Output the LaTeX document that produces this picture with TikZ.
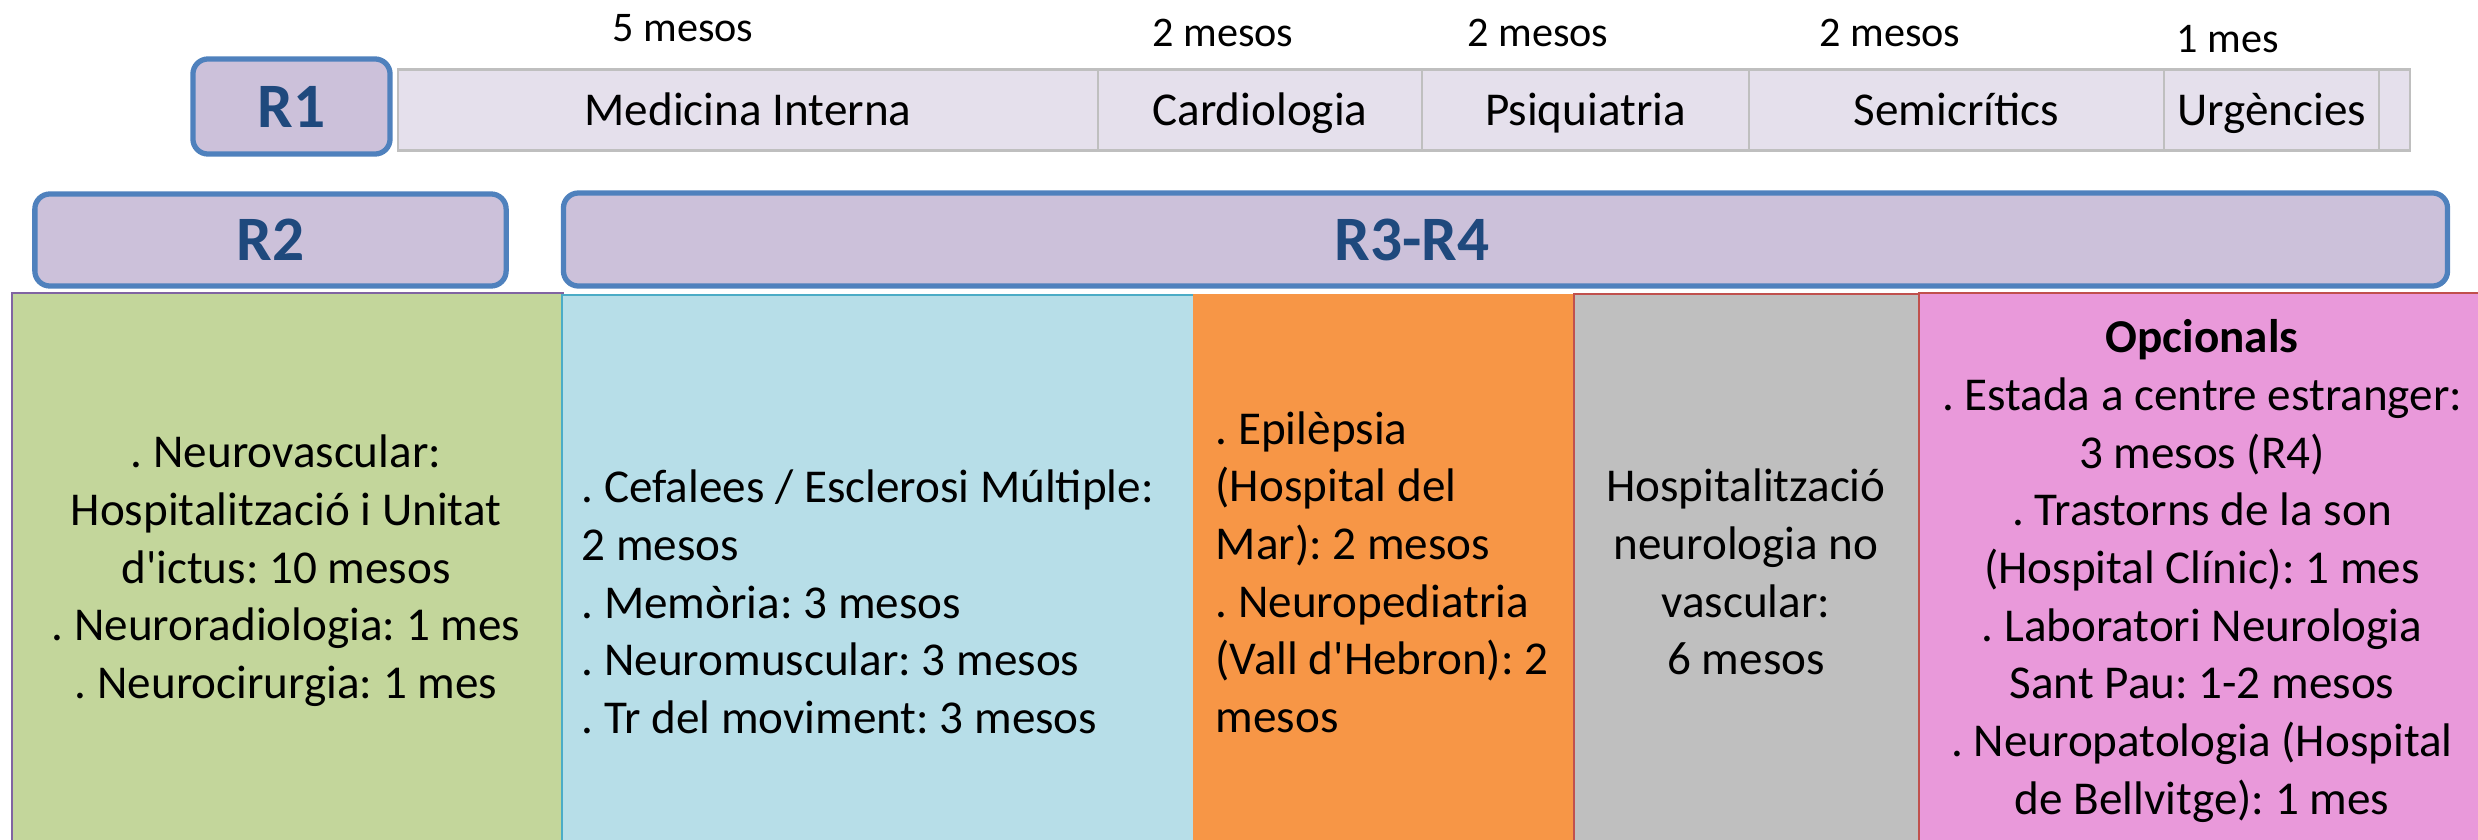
\documentclass[tikz,border=0pt]{standalone}
\usepackage{fontspec}
\setmainfont{Carlito}
\usepackage{tikz}
\frenchspacing
\definecolor{rfill}{HTML}{CCC1DA}
\definecolor{rline}{HTML}{4F81BD}
\definecolor{rtext}{HTML}{1F497D}
\definecolor{cellfill}{HTML}{E5E0EC}
\definecolor{cellline}{HTML}{BFBFBF}
\definecolor{vascfill}{HTML}{C3D69B}
\definecolor{vascline}{HTML}{8064A2}
\definecolor{subfill}{HTML}{B7DEE8}
\definecolor{subline}{HTML}{4BACC6}
\definecolor{extfill}{HTML}{F79646}
\definecolor{hospfill}{HTML}{BFBFBF}
\definecolor{hospline}{HTML}{C0504D}
\definecolor{optfill}{HTML}{E999DA}
\tikzstyle{rbox} = [rectangle, rounded corners=0.15cm, line width=1.5pt, draw=rline, fill=rfill, text=rtext, inner sep=0pt, font=\fontsize{18}{20}\selectfont\bfseries]
\tikzstyle{rlabel} = [text=rtext, font=\fontsize{18}{20}\selectfont\bfseries]
\tikzstyle{cell} = [rectangle, draw=cellline, line width=0.7pt, fill=cellfill, minimum height=0.81cm, text height=0.34cm, text depth=0.04cm, inner sep=0pt, font=\fontsize{13.4}{16.4}\selectfont]
\tikzstyle{months} = [anchor=base, inner sep=0pt, font=\fontsize{12}{14}\selectfont]
\tikzstyle{column} = [rectangle, anchor=north west, inner sep=0pt, line width=0.6pt]
\tikzstyle{coltext} = [inner sep=0pt, font=\fontsize{13.4}{16.4}\selectfont]

\begin{document}
\begin{tikzpicture}[x=0.01cm, y=-0.01cm]
		\useasboundingbox (0,0) rectangle (2478,839);
		
		\node (vasc) [column, draw=vascline, fill=vascfill, minimum width=5.51cm, minimum height=5.70cm] at (10.5,291.5) {};
		\node (sub) [column, draw=subline, fill=subfill, minimum width=6.32cm, minimum height=5.70cm] at (561,294) {};
		\node (ext) [column, draw=extfill, fill=extfill, minimum width=3.80cm, minimum height=5.70cm] at (1193,294) {};
		\node (hosp) [column, draw=hospline, fill=hospfill, minimum width=3.45cm, minimum height=5.70cm] at (1573,293) {};
		\node (opt) [column, draw=hospline, fill=optfill, minimum width=6.00cm, minimum height=5.70cm] at (1918,292) {};
		
		\node (r1) [rbox, minimum width=1.97cm, minimum height=0.95cm] at (291.5,106.5) {R1};
		\node (r2) [rbox, minimum width=4.71cm, minimum height=0.92cm] at (270.5,240) {R2};
		\node (r34) [rbox, minimum width=18.83cm, minimum height=0.93cm] at (1505.5,239.5) {};
		\node (r34label) [rlabel] at (1412,240) {R3-R4};
		
		\node (medint) [cell, minimum width=7.00cm] at (748,110) {Medicina Interna};
		\node (cardio) [cell, minimum width=3.24cm] at (1260,110) {Cardiologia};
		\node (psiq) [cell, minimum width=3.27cm] at (1585.5,110) {Psiquiatria};
		\node (semi) [cell, minimum width=4.15cm] at (1956.5,110) {Semicrítics};
		\node (urg) [cell, minimum width=2.15cm] at (2271.5,110) {Urgències};
		\node (blank) [cell, minimum width=0.31cm] at (2394.5,110) {};
		
		\node (m1) [months] at (683,41) {5 mesos};
		\node (m2) [months] at (1223,46) {2 mesos};
		\node (m3) [months] at (1538,46) {2 mesos};
		\node (m4) [months] at (1890,46) {2 mesos};
		\node (m5) [months] at (2228,52) {1 mes};
		
		\node (vasctext) [coltext, align=center] at (286,571) {. Neurovascular:\\Hospitalització i Unitat\\d\textquotesingle ictus: 10 mesos\\. Neuroradiologia: 1 mes\\. Neurocirurgia: 1 mes};
		\node (subtext) [coltext, align=left, anchor=west] at (581,602) {. Cefalees / Esclerosi Múltiple:\\2 mesos\\. Memòria: 3 mesos\\. Neuromuscular: 3 mesos\\. Tr del moviment: 3 mesos};
		\node (exttext) [coltext, align=left, anchor=west] at (1215,572) {. Epilèpsia\\(Hospital del\\Mar): 2 mesos\\. Neuropediatria\\(Vall d\textquotesingle Hebron): 2\\mesos};
		\node (hosptext) [coltext, align=center] at (1746,572) {Hospitalització\\neurologia no\\vascular:\\6 mesos};
		\node (opttext) [coltext, align=center] at (2202,571) {\textbf{Opcionals}\\. Estada a centre estranger:\\3 mesos (R4)\\. Trastorns de la son\\(Hospital Clínic): 1 mes\\. Laboratori Neurologia\\Sant Pau: 1-2 mesos\\. Neuropatologia (Hospital\\de Bellvitge): 1 mes};
		\end{tikzpicture}
\end{document}
